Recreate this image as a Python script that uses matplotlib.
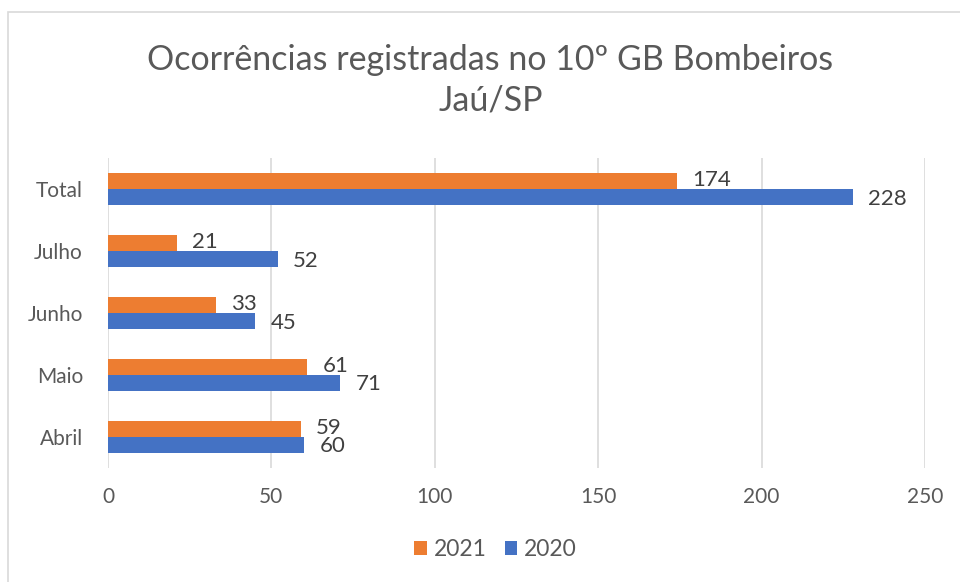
import matplotlib.pyplot as plt
import matplotlib.patches as mpatches
import numpy as np

categories = ["Abril", "Maio", "Junho", "Julho", "Total"]
vals_2021 = [59, 61, 33, 21, 174]
vals_2020 = [60, 71, 45, 52, 228]
x_ticks = [0, 50, 100, 150, 200, 250]

plt.rcParams["font.family"] = ["Lato", "DejaVu Sans"]
text_color = "#595959"
orange = "#ED7D31"
blue = "#4472C4"

fig = plt.figure(figsize=(9.6, 5.82), dpi=100)
ax = fig.add_axes([0.1125, 0.196, 0.851, 0.532])

# chart border
fig.patches.append(mpatches.Rectangle((8 / 960, -0.01), 1.0, 1 - 12 / 582 + 0.01,
                                      transform=fig.transFigure, fill=False,
                                      edgecolor="#D9D9D9", linewidth=1.2))

y = np.arange(len(categories))
h = 0.26
b21 = ax.barh(y + h / 2, vals_2021, height=h, color=orange, label="2021", zorder=3)
b20 = ax.barh(y - h / 2, vals_2020, height=h, color=blue, label="2020", zorder=3)

for bars, dy in ((b21, 1), (b20, -1)):
    for bar in bars:
        w = bar.get_width()
        ax.annotate(f"{w:.0f}", (w, bar.get_y() + bar.get_height() / 2),
                    xytext=(11, dy), textcoords="offset points",
                    ha="left", va="center", fontsize=16, color="#404040", zorder=4)

ax.set_xlim(0, 250)
ax.set_ylim(-0.5, len(categories) - 0.5)
ax.set_xticks(x_ticks)
ax.set_yticks(y)
ax.set_yticklabels(categories)
ax.tick_params(axis="both", length=0, labelsize=15, colors=text_color)
ax.tick_params(axis="x", pad=14)
ax.tick_params(axis="y", pad=18)
ax.grid(axis="x", color="#D9D9D9", linewidth=1.2, zorder=0)
for s in ax.spines.values():
    s.set_visible(False)

fig.text(0.511, 0.862, "Ocorrências registradas no 10º GB Bombeiros\nJaú/SP",
         ha="center", va="center", fontsize=24.5, color=text_color, linespacing=1.35)

ax.legend(handles=[b21, b20], loc="center", bbox_to_anchor=(0.516, 0.055),
          bbox_transform=fig.transFigure, ncol=2, frameon=False, fontsize=16.5,
          handlelength=0.55, handleheight=0.55, handletextpad=0.3, columnspacing=0.8,
          labelcolor=text_color)

plt.savefig("out.png", dpi=100)
